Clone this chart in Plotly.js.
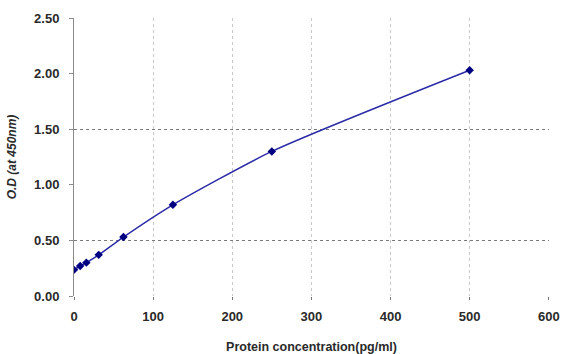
<!DOCTYPE html>
<html>
<head>
<meta charset="utf-8">
<script src="https://cdn.plot.ly/plotly-3.0.1.min.js"></script>
<style>html,body{margin:0;padding:0;background:#fff;}#chart{width:562px;height:354px;}</style>
</head>
<body>
<div id="chart"></div>
<script>
var concentration = [0, 7.8, 15.6, 31.25, 62.5, 125, 250, 500];
var opticalDensity = [0.235, 0.27, 0.30, 0.37, 0.53, 0.82, 1.30, 2.03];
var xTickValues = [0, 100, 200, 300, 400, 500, 600];
var xTitle = "Protein concentration(pg/ml)";
var yTitle = "O.D (at 450nm)";

var tickFont = {family: "Liberation Sans, Arial, sans-serif", size: 13, color: "#2a2a2a", weight: "bold"};

var traces = [
  {
    x: concentration, y: opticalDensity, type: "scatter", mode: "lines+markers",
    line: {color: "#2b2ba8", width: 1.5, shape: "spline", smoothing: 0.6},
    marker: {symbol: "diamond", size: 6.5, color: "#000080"},
    showlegend: false, hoverinfo: "skip"
  },
  {
    x: concentration, y: opticalDensity, type: "scatter", mode: "none",
    yaxis: "y2", showlegend: false, hoverinfo: "skip"
  }
];

var layout = {
  width: 562, height: 354,
  margin: {l: 74, r: 13, t: 18, b: 58},
  paper_bgcolor: "#fff", plot_bgcolor: "#fff",
  showlegend: false,
  xaxis: {
    range: [0, 600.3], tickmode: "array", tickvals: xTickValues,
    showgrid: true, gridcolor: "#c8c8c8", griddash: "dot", gridwidth: 1,
    zeroline: false, showline: false,
    ticks: "outside", ticklen: 3, tickcolor: "#777",
    tickfont: tickFont, ticklabelstandoff: 5, ticklabeloverflow: "allow",
    title: {text: xTitle, font: {family: "Liberation Sans, Arial, sans-serif", size: 12.5, color: "#2a2a2a", weight: "bold"}, standoff: 20},
    automargin: false,
    fixedrange: true
  },
  yaxis: {
    range: [0, 2.5], dtick: 0.5, tick0: 0, tickformat: ".2f",
    showgrid: false, zeroline: false,
    showline: true, linecolor: "#8a8a8a", linewidth: 1,
    ticks: "outside", ticklen: 4, tickcolor: "#8a8a8a",
    tickfont: tickFont, ticklabelstandoff: 7,
    title: {text: yTitle, font: {family: "Liberation Sans, Arial, sans-serif", size: 12, color: "#2a2a2a", weight: "bold", style: "italic"}, standoff: 14},
    fixedrange: true
  },
  yaxis2: {
    overlaying: "y", range: [0, 2.5], tick0: 0.5, dtick: 1,
    showgrid: true, gridcolor: "#7a7a7a", griddash: "dot", gridwidth: 1,
    showticklabels: false, ticks: "", zeroline: false, showline: false,
    fixedrange: true
  }
};

Plotly.newPlot("chart", traces, layout, {displayModeBar: false, staticPlot: true});
</script>
</body>
</html>
